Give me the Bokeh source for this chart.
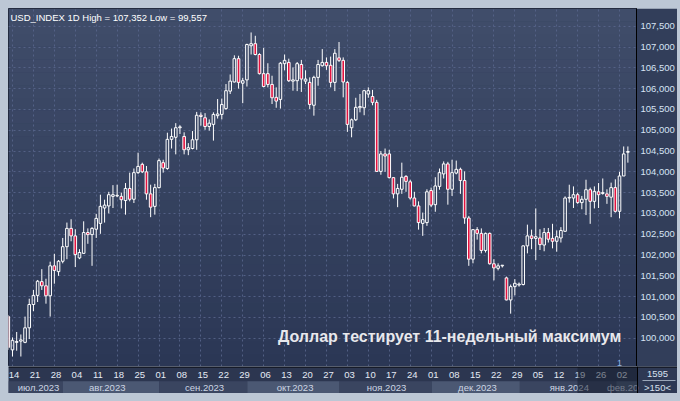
import numpy as np
from bokeh.plotting import figure
from bokeh.layouts import column
from bokeh.core.properties import value
from bokeh.models import (Range1d, LinearAxis, FixedTicker, CustomJSTickFormatter, Label,
                          BoxAnnotation, Grid, Span, GlobalInlineStyleSheet)
from bokeh.embed import file_html
from bokeh.resources import INLINE

# ---------------- data (daily candles, 13 Jul 2023 .. 6 Feb 2024) ----------------
open_ = [100.52, 99.72, 99.90, 99.93, 99.90, 100.25, 100.81, 101.03, 101.36, 101.26,
         101.02, 101.74, 101.60, 101.85, 102.20, 102.64, 102.46, 101.93, 102.04, 102.54,
         102.49, 102.62, 102.76, 103.13, 103.18, 103.41, 103.42, 103.41, 103.31, 103.60,
         103.34, 103.98, 104.18, 104.00, 103.47, 103.17, 103.62, 104.22, 104.08, 104.78,
         104.83, 105.06, 104.85, 104.53, 104.56, 104.77, 105.36, 105.30, 105.09, 105.14,
         105.35, 105.38, 105.52, 105.94, 106.16, 106.72, 106.13, 106.21, 107.03, 107.08,
         106.82, 106.36, 106.36, 106.10, 105.79, 105.74, 106.60, 106.63, 106.18, 106.19,
         106.58, 106.18, 106.15, 105.60, 106.27, 106.55, 106.63, 106.56, 106.15, 106.74,
         106.68, 106.15, 105.06, 105.25, 105.54, 105.54, 105.87, 105.81, 105.67, 104.01,
         104.43, 104.43, 103.86, 103.47, 103.58, 103.89, 103.76, 103.37, 103.18, 102.76,
         102.78, 103.55, 103.21, 103.65, 103.95, 104.19, 103.58, 103.97, 104.06, 103.79,
         102.89, 101.90, 102.61, 102.52, 102.11, 102.52, 101.79, 101.68, 101.74, 101.45,
         100.92, 101.24, 101.28, 101.29, 102.22, 102.46, 102.40, 102.41, 102.24, 102.54,
         102.40, 102.33, 102.41, 102.57, 103.37, 103.37, 103.45, 103.26, 103.34, 103.57,
         103.29, 103.52, 103.48, 103.47, 103.39, 103.62, 103.05, 103.90, 104.47]
high = [100.56, 100.02, 100.15, 100.09, 100.52, 100.95, 101.16, 101.40, 101.66, 101.43,
        101.84, 102.03, 101.88, 102.41, 102.78, 102.86, 102.62, 102.14, 102.81, 102.64,
        102.67, 102.99, 103.45, 103.33, 103.52, 103.68, 103.69, 103.50, 103.73, 103.98,
        104.08, 104.46, 104.22, 104.14, 103.69, 103.71, 104.32, 104.29, 104.94, 105.04,
        105.17, 105.12, 104.95, 104.69, 104.98, 105.44, 105.43, 105.41, 105.26, 105.43,
        105.75, 105.76, 106.11, 106.34, 106.80, 106.79, 106.26, 107.08, 107.35, 107.27,
        106.85, 106.98, 106.61, 106.31, 106.03, 106.64, 106.82, 106.72, 106.51, 106.64,
        106.69, 106.44, 106.27, 106.31, 106.69, 106.95, 106.75, 106.77, 106.95, 107.12,
        106.75, 106.18, 105.28, 105.78, 105.87, 105.97, 106.03, 105.97, 105.73, 104.50,
        104.56, 104.53, 103.87, 103.71, 104.22, 103.92, 103.81, 103.52, 103.29, 103.02,
        103.58, 103.62, 103.87, 104.08, 104.25, 104.24, 104.29, 104.27, 104.10, 104.01,
        102.94, 102.62, 102.67, 102.64, 102.54, 102.54, 101.90, 101.80, 101.75, 101.48,
        101.29, 101.42, 101.34, 102.23, 102.73, 102.61, 103.12, 102.62, 102.65, 102.65,
        102.75, 102.59, 102.67, 103.41, 103.69, 103.65, 103.50, 103.42, 103.81, 103.62,
        103.65, 103.73, 103.84, 103.58, 103.74, 103.82, 104.00, 104.61, 104.61]
low = [99.72, 99.56, 99.70, 99.56, 99.88, 99.98, 100.65, 100.87, 101.16, 100.83,
       100.52, 101.31, 101.50, 101.80, 101.90, 102.33, 101.71, 101.90, 102.03, 102.27,
       101.74, 102.41, 102.51, 102.78, 103.00, 103.13, 103.39, 103.12, 102.97, 103.29,
       103.25, 103.95, 103.97, 103.33, 102.91, 102.97, 103.60, 103.98, 104.05, 104.56,
       104.42, 104.91, 104.42, 104.40, 104.54, 104.53, 105.11, 105.01, 104.99, 104.75,
       105.28, 105.26, 105.49, 105.87, 106.15, 106.00, 105.65, 106.05, 106.82, 106.80,
       106.34, 106.03, 106.03, 105.63, 105.54, 105.52, 106.44, 106.16, 105.95, 105.94,
       105.92, 106.11, 105.51, 105.35, 106.07, 106.53, 106.45, 106.03, 105.94, 106.64,
       105.79, 104.96, 104.83, 105.22, 105.43, 105.36, 105.78, 105.60, 104.00, 103.93,
       104.00, 103.84, 103.36, 103.15, 103.47, 103.52, 103.33, 103.17, 102.61, 102.46,
       102.70, 103.15, 103.04, 103.57, 103.84, 103.21, 103.42, 103.94, 103.47, 102.75,
       101.74, 101.80, 102.37, 102.04, 102.06, 101.77, 101.39, 101.63, 101.70, 100.91,
       100.59, 101.03, 101.24, 101.27, 102.04, 102.14, 101.88, 102.12, 102.09, 102.30,
       102.16, 102.08, 102.30, 102.56, 103.26, 103.13, 103.23, 103.10, 102.96, 102.75,
       103.12, 103.13, 103.45, 103.23, 102.91, 103.02, 102.88, 103.90, 104.22]
close = [99.78, 99.95, 99.92, 99.96, 100.25, 100.81, 101.03, 101.37, 101.26, 101.02,
         101.74, 101.63, 101.85, 102.20, 102.64, 102.46, 102.01, 102.06, 102.54, 102.49,
         102.64, 102.88, 103.17, 103.20, 103.45, 103.45, 103.43, 103.33, 103.60, 103.34,
         103.98, 104.13, 104.00, 103.47, 103.15, 103.62, 104.27, 104.09, 104.78, 104.85,
         105.06, 105.08, 104.53, 104.58, 104.77, 105.36, 105.33, 105.09, 105.17, 105.38,
         105.39, 105.62, 105.95, 106.18, 106.72, 106.15, 106.19, 107.06, 107.08, 106.82,
         106.36, 106.05, 106.10, 105.78, 105.70, 106.61, 106.68, 106.19, 106.21, 106.60,
         106.23, 106.23, 105.62, 106.27, 106.58, 106.63, 106.55, 106.15, 106.85, 106.68,
         106.16, 105.14, 105.25, 105.55, 105.57, 105.95, 105.95, 105.67, 104.01, 104.43,
         104.38, 103.86, 103.47, 103.60, 103.87, 103.77, 103.37, 103.18, 102.78, 102.85,
         103.52, 103.20, 103.66, 103.98, 104.19, 103.58, 103.98, 104.06, 103.79, 102.89,
         101.90, 102.61, 102.52, 102.11, 102.52, 101.79, 101.69, 101.74, 101.74, 100.92,
         101.24, 101.32, 101.30, 102.22, 102.46, 102.40, 102.44, 102.25, 102.54, 102.38,
         102.33, 102.44, 102.59, 103.37, 103.38, 103.45, 103.26, 103.34, 103.57, 103.29,
         103.53, 103.45, 103.50, 103.41, 103.62, 103.05, 103.90, 104.43, 104.488]

# weekly tick labels (Fridays) and month labels
week_ticks = [1, 6, 11, 16, 21, 26, 31, 36, 41, 46, 51, 56, 61, 66, 71, 76, 81, 86, 91, 96,
              101, 106, 111, 116, 121, 126, 131, 136, 141, 146]
week_labels = ["14", "21", "28", "04", "11", "18", "25", "01", "08", "15", "22", "29", "06",
               "13", "20", "27", "03", "10", "17", "24", "01", "08", "15", "22", "29", "05",
               "12", "19", "26", "02"]
month_starts = [13, 36, 57, 79, 101, 122, 145]
month_centers = [7.2, 23.6, 46.8, 68.4, 90.2, 111.9, 133.8, 146.5]
month_labels = ["июл.2023", "авг.2023", "сен.2023", "окт.2023", "ноя.2023", "дек.2023",
                "янв.2024", "фев.20"]
price_ticks = [100.0, 100.5, 101.0, 101.5, 102.0, 102.5, 103.0, 103.5, 104.0, 104.5,
               105.0, 105.5, 106.0, 106.5, 107.0, 107.5]
title_text = "USD_INDEX 1D High = 107,352 Low = 99,557"
note_text = "Доллар тестирует 11-недельный максимум"
corner_texts = ["1595", ">150<"]

# ---------------- main chart ----------------
X0, X1 = 0.046, 150.06
Y0, Y1 = 99.320, 107.926
PX = 4.193          # pixels per candle
PY = 41.6           # pixels per 1.0 of price
RW = 40             # price panel width (px)
XE = X1 + RW / PX   # x value at the right edge of the canvas

FONT = "Liberation Sans"

main = figure(width=669, height=358, output_backend="svg", toolbar_location=None,
              x_range=Range1d(X0, X1), y_range=Range1d(Y0, Y1),
              x_axis_location=None, y_axis_location=None,
              min_border_left=0, min_border_top=0, min_border_right=RW, min_border_bottom=0,
              background_fill_color="#35425f", border_fill_color="#323e5a",
              outline_line_color="#1b2233")
main.grid.visible = False
main.stylesheets = [GlobalInlineStyleSheet(
    css="html, body {background:#bcc7d5 !important;} body {padding:8px 0 0 8px !important;}")]

# vertical gradient of the chart background
nb = 28
top_c = np.array([0x40, 0x4d, 0x6a])
bot_c = np.array([0x2b, 0x37, 0x55])
edges = np.linspace(Y1, Y0, nb + 1)
for k in range(nb):
    t = (k + 0.5) / nb
    col = (top_c * (1 - t) + bot_c * t).round().astype(int)
    main.add_layout(BoxAnnotation(top=edges[k], bottom=edges[k + 1],
                                  fill_color="#%02x%02x%02x" % tuple(col), fill_alpha=1,
                                  line_color=None, level="image"))

# grid
grid_kw = dict(grid_line_color="#56648a", grid_line_dash="2 3", grid_line_width=1,
               grid_line_alpha=0.9)
main.add_layout(Grid(dimension=0, ticker=FixedTicker(ticks=week_ticks), **grid_kw))
main.add_layout(Grid(dimension=1, ticker=FixedTicker(ticks=price_ticks), **grid_kw))

price_axis = LinearAxis(ticker=FixedTicker(ticks=price_ticks),
                        formatter=CustomJSTickFormatter(code="return tick.toFixed(3).replace('.', ',');"),
                        axis_line_color="#000000", major_label_standoff=4,
                        major_tick_line_color=None, minor_tick_line_color=None,
                        major_tick_out=0, major_tick_in=0, minor_tick_out=0, minor_tick_in=0,
                        major_label_text_font=FONT, major_label_text_font_size="9.5px",
                        major_label_text_color="#d6e3f4")
main.add_layout(price_axis, "right")

# candles
o = np.array(open_); h = np.array(high); l = np.array(low); c = np.array(close)
x = np.arange(len(o))
btop = np.maximum(o, c)
bbot = np.minimum(o, c)
btop = np.maximum(btop, bbot + 0.015)
up = c >= o
main.segment(x0=x, y0=btop, x1=x, y1=h, line_color="#ffffff", line_width=1)
main.segment(x0=x, y0=l, x1=x, y1=bbot, line_color="#ffffff", line_width=1)
W = 2.6 / PX
main.vbar(x=x[up], width=W, top=btop[up], bottom=bbot[up], fill_color=None,
          line_color="#ffffff", line_width=1)
main.vbar(x=x[~up], width=W, top=btop[~up], bottom=bbot[~up], fill_color="#e3123f",
          line_color="#ffffff", line_width=1)

# texts inside the chart
main.add_layout(Label(x=X0, y=Y1, x_offset=2, y_offset=-3, text=title_text, text_baseline="top",
                      text_font=FONT, text_font_size="9.5px", text_color="#ffffff"))
main.add_layout(Label(x=64.4, y=100.05, text=note_text, text_baseline="alphabetic",
                      text_font=FONT, text_font_size="16px", text_font_style="bold",
                      text_color="#e8e8ec"))
main.add_layout(Label(x=146, y=Y0, y_offset=4, text="1", text_align="center",
                      text_baseline="middle", text_font=FONT, text_font_size="9px",
                      text_color="#8fb6e6"))

# last price marker
main.add_layout(Label(x=X1, y=c[-1], x_offset=2, text="◀", text_baseline="middle",
                      text_font="DejaVu Sans", text_font_size="8px", text_color="#c8ccd4",
                      level="overlay"))
main.add_layout(Label(x=X1, y=c[-1], x_offset=7, text="104,488", text_baseline="middle",
                      text_font=FONT, text_font_size="9.5px", text_color="#1c2538",
                      background_fill_color="#c8ccd4", level="overlay"))

# ---------------- time scale strip (same x scale, 27 px high) ----------------
strip = figure(width=669, height=27, output_backend="svg", toolbar_location=None,
               x_range=Range1d(X0, XE), y_range=Range1d(0, 27),
               x_axis_location=None, y_axis_location=None,
               min_border_left=0, min_border_top=0, min_border_right=0, min_border_bottom=0,
               background_fill_color="#2c3650", border_fill_color="#2c3650",
               outline_line_color=None)
strip.grid.visible = False
for fig in (main, strip):
    if "frame_align" in fig.properties():
        fig.frame_align = False

band_left = [X0] + month_starts
band_right = month_starts + [X1]
band_colors = ["#3a4560" if k % 2 == 0 else "#4b5873" for k in range(len(band_left))]
strip.quad(left=band_left, right=band_right, bottom=0, top=12.3, fill_color=band_colors,
           line_color=None)
# corner box
strip.quad(left=[X1], right=[XE], bottom=0, top=27, fill_color="#2e3954", line_color=None)

txt = dict(text_font=value(FONT), text_font_size="9.5px", text_baseline="middle",
           text_align="center")
strip.text(x=week_ticks, y=[18.5] * len(week_ticks), text=week_labels, x_offset=1.5,
           text_color="#e4eaf4", **txt)
strip.text(x=month_centers, y=[6.5] * len(month_centers), text=month_labels,
           text_color="#cdd6e4", **txt)
strip.text(x=[(X1 + XE) / 2] * 2, y=[19.5, 6.5], text=corner_texts, text_color="#d6e0ee", **txt)
strip.segment(x0=[X1 + 5 / PX], y0=[13], x1=[XE - 2 / PX], y1=[13], line_color="#9aa6b8",
              line_width=1)

# dimmed scroll region
strip.quad(left=[135.75], right=[X1], bottom=0, top=26.4, fill_color="#141b2b", fill_alpha=0.5,
           line_color=None)
# separators
strip.add_layout(Span(location=26.5, dimension="width", line_color="#000000", line_width=1))
strip.add_layout(Span(location=X1, dimension="height", line_color="#000000", line_width=1))

p = column(main, strip, spacing=0)

open("out.html", "w").write(file_html(p, INLINE))
